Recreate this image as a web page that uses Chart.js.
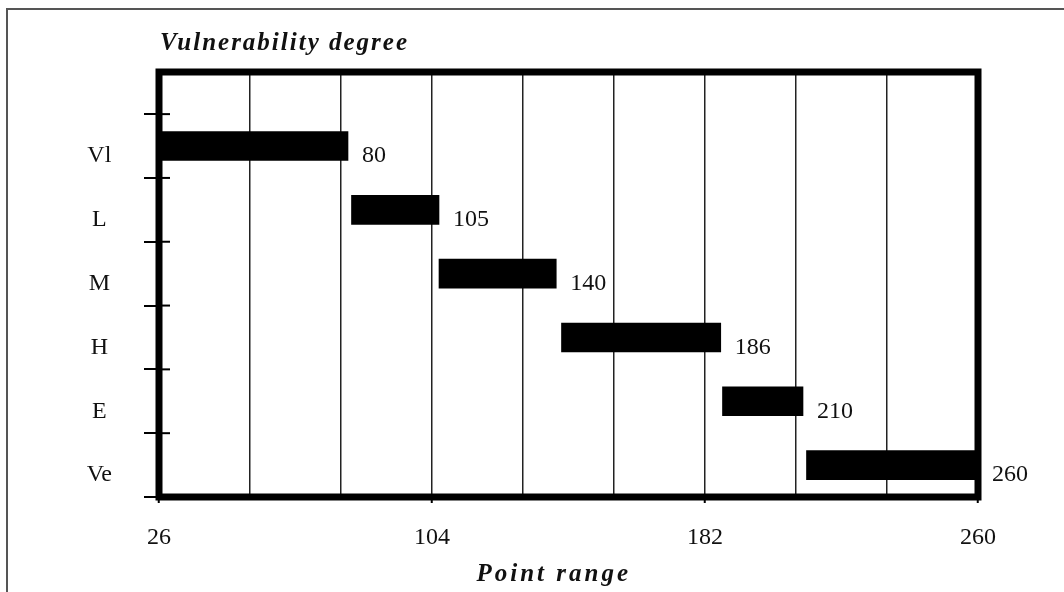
<!DOCTYPE html>
<html><head><meta charset="utf-8">
<script src="https://cdn.jsdelivr.net/npm/chart.js@4"></script>
<style>
html,body{margin:0;padding:0;background:#fff;}
#wrap{position:relative;width:1064px;height:592px;overflow:hidden;}
#frame{position:absolute;left:6px;top:8px;width:1200px;height:800px;border-left:2px solid #555;border-top:2px solid #555;}
canvas{position:absolute;left:0;top:0;}
</style></head><body>
<div id="wrap"><div id="frame"></div><canvas id="c" width="1064" height="592"></canvas></div>
<script>
const categories = ['Vl', 'L', 'M', 'H', 'E', 'Ve'];
const rangeStart = [26, 81, 106, 141, 187, 211];
const rangeEnd = [80, 106, 139.5, 186.5, 210, 260];
const endLabels = ['80', '105', '140', '186', '210', '260'];
const xTickLabels = [26, 104, 182, 260];
const xMin = 26, xMax = 260, xStep = 26;
const yTitle = 'Vulnerability degree';
const xTitle = 'Point range';

const serif = '"Liberation Serif", "Times New Roman", serif';
const barData = categories.map((c, i) => ({ x: [rangeStart[i], rangeEnd[i]], y: i + 0.5 }));

const framePlugin = {
  id: 'frame',
  afterDatasetsDraw(chart) {
    const { ctx, chartArea: a, scales: { x, y } } = chart;
    ctx.save();
    ctx.strokeStyle = '#000';
    ctx.lineWidth = 2;
    for (let i = 0; i <= categories.length; i++) {
      const py = y.getPixelForValue(i);
      ctx.beginPath(); ctx.moveTo(a.left, py); ctx.lineTo(a.left + 11, py); ctx.stroke();
    }
    ctx.lineWidth = 7;
    ctx.lineJoin = 'miter';
    ctx.strokeRect(a.left, a.top, a.right - a.left, a.bottom - a.top);
    ctx.fillStyle = '#111';
    ctx.font = '24px ' + serif;
    ctx.textBaseline = 'middle';
    ctx.textAlign = 'left';
    categories.forEach((c, i) => {
      const px = x.getPixelForValue(rangeEnd[i]);
      const py = y.getPixelForValue(i + 0.5);
      ctx.fillText(endLabels[i], px + 14, py + 10);
    });
    ctx.textBaseline = 'alphabetic';
    ctx.font = 'italic bold 25px ' + serif;
    ctx.letterSpacing = '2px';
    ctx.fillText(yTitle, a.left + 1, a.top - 22);
    ctx.letterSpacing = '3px';
    ctx.fillText(xTitle, (a.left + a.right) / 2 - 92, a.bottom + 84);
    ctx.letterSpacing = '0px';
    ctx.restore();
  }
};

new Chart(document.getElementById('c'), {
  type: 'bar',
  data: { datasets: [{ data: barData, backgroundColor: '#000', borderWidth: 0, barThickness: 29 }] },
  options: {
    indexAxis: 'y', responsive: false, animation: false, devicePixelRatio: 1,
    layout: { padding: { left: 59, right: 86, top: 72, bottom: 35 } },
    plugins: { legend: { display: false }, tooltip: { enabled: false } },
    scales: {
      x: {
        type: 'linear', position: 'bottom', min: xMin, max: xMax, offset: false,
        ticks: {
          stepSize: xStep, autoSkip: false, maxRotation: 0, padding: 20, color: '#111',
          font: { family: serif, size: 24 },
          callback: v => xTickLabels.includes(v) ? String(v) : ''
        },
        grid: {
          offset: false, color: '#222', lineWidth: 1.5, drawTicks: true, tickLength: 6, tickWidth: 2,
          tickColor: c => (c.tick && xTickLabels.includes(c.tick.value)) ? '#000' : 'rgba(0,0,0,0)'
        },
        border: { display: false },
        afterFit: s => { s.height = 60; }
      },
      y: {
        type: 'linear', position: 'left', reverse: true, min: -0.66, max: categories.length, offset: false,
        afterBuildTicks: s => {
          const t = [];
          for (let i = 0; i <= categories.length * 2; i++) t.push({ value: i / 2 });
          s.ticks = t;
        },
        ticks: {
          autoSkip: false, padding: 32, crossAlign: 'center', labelOffset: 10, color: '#111',
          font: { family: serif, size: 24 },
          callback: v => (v % 1 !== 0) ? categories[Math.floor(v)] : ''
        },
        grid: {
          offset: false, drawOnChartArea: false, drawTicks: true, tickLength: 15, tickWidth: 2, lineWidth: 2,
          color: c => (c.tick && c.tick.value % 1 === 0) ? '#000' : 'rgba(0,0,0,0)'
        },
        border: { display: false },
        afterFit: s => { s.width = 100; }
      }
    }
  },
  plugins: [framePlugin]
});
</script>
</body></html>
